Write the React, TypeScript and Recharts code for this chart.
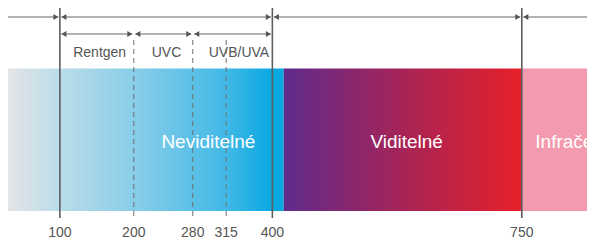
import { ComposedChart, Line, ReferenceArea, ReferenceDot, ReferenceLine, XAxis, YAxis } from "recharts";

// wavelength labels (nm) and where each sits on the schematic axis
const wavelengths = [100, 200, 280, 315, 400, 750];
const axisPos = [100, 204, 287, 334, 399, 750];
const solidAt = [100, 399, 750];
const dashedAt = [204, 287, 334];

// coloured bands: [from, to]
const invisibleBand = [27, 415];
const visibleBand = [415, 750];
const infraredBand = [750, 853];

// top row arrows and sub-range arrows: [from, to, head at start, head at end]
const topArrows: [number, number, boolean, boolean][] = [
  [27, 100, false, true],
  [100, 399, true, true],
  [399, 750, true, true],
  [750, 853, true, false],
];
const subArrows: [number, number, boolean, boolean][] = [
  [100, 204, true, true],
  [204, 287, true, true],
  [287, 399, true, true],
];
const subLabels = ["Rentgen", "UVC", "UVB/UVA"];
const subLabelPos = [156, 250, 352];
const bandLabels = ["Neviditelné", "Viditelné", "Infračervené"];
const bandLabelPos = [309, 588, 769];

const data = axisPos.map((pos, i) => ({ pos, nm: wavelengths[i], base: 210 }));

const FONT = '"Liberation Sans", Arial, Helvetica, sans-serif';

function arrowShape(startHead: boolean, endHead: boolean) {
  return (props: any) => {
    const { x1, y1, x2 } = props;
    const gap = 1.5;
    const len = 5;
    const half = 3;
    const a = x1 + (startHead ? gap : 0);
    const b = x2 - (endHead ? gap : 0);
    return (
      <g>
        <line x1={a} y1={y1} x2={b} y2={y1} stroke="#666" strokeWidth={1} />
        {startHead && (
          <polygon points={`${a},${y1} ${a + len},${y1 - half} ${a + len},${y1 + half}`} fill="#555" />
        )}
        {endHead && (
          <polygon points={`${b},${y1} ${b - len},${y1 - half} ${b - len},${y1 + half}`} fill="#555" />
        )}
      </g>
    );
  };
}

export default function App() {
  const rowTop = 9;
  const rowSub = 26;
  return (
    <div style={{ fontFamily: FONT }}>
      <ComposedChart width={587} height={234} data={data} margin={{ top: 0, right: 0, bottom: 0, left: 0 }}>
        <defs>
          <linearGradient id="invisible" x1="0" y1="0" x2="1" y2="0">
            <stop offset="0" stopColor="#e4e5e7" />
            <stop offset="0.18" stopColor="#bcdde9" />
            <stop offset="0.5" stopColor="#80cbe8" />
            <stop offset="0.8" stopColor="#3fb8e6" />
            <stop offset="0.955" stopColor="#0aa8e1" />
            <stop offset="1" stopColor="#0aa8e1" />
          </linearGradient>
          <linearGradient id="visible" x1="0" y1="0" x2="1" y2="0">
            <stop offset="0" stopColor="#5f2b8c" />
            <stop offset="0.5" stopColor="#a72457" />
            <stop offset="1" stopColor="#e6202a" />
          </linearGradient>
        </defs>
        <XAxis
          dataKey="pos"
          type="number"
          domain={[27, 853]}
          ticks={axisPos}
          interval={0}
          tickFormatter={(v: number) => String(wavelengths[axisPos.indexOf(v)] ?? v)}
          axisLine={false}
          tickLine={false}
          tickMargin={3}
          height={24}
          tick={{ fontSize: 14, fill: "#555", fontFamily: FONT }}
        />
        <YAxis type="number" domain={[0, 210]} reversed hide />
        <ReferenceArea x1={invisibleBand[0]} x2={invisibleBand[1]} y1={60.5} y2={203} fill="url(#invisible)" fillOpacity={1} stroke="none" />
        <ReferenceArea x1={visibleBand[0]} x2={visibleBand[1]} y1={60.5} y2={203} fill="url(#visible)" fillOpacity={1} stroke="none" />
        <ReferenceArea x1={infraredBand[0]} x2={infraredBand[1]} y1={60.5} y2={203} fill="#f49aae" fillOpacity={1} stroke="none" />
        {dashedAt.map((x) => (
          <ReferenceLine
            key={`d${x}`}
            segment={[{ x, y: 32 }, { x, y: 210 }]}
            stroke="#6f6f6f"
            strokeWidth={1}
            strokeDasharray="5 4"
          />
        ))}
        {solidAt.map((x) => (
          <ReferenceLine key={`s${x}`} x={x} stroke="#5e5e5e" strokeWidth={1.6} />
        ))}
        {topArrows.map(([a, b, s, e]) => (
          <ReferenceLine key={`t${a}`} segment={[{ x: a, y: rowTop }, { x: b, y: rowTop }]} shape={arrowShape(s, e)} />
        ))}
        {subArrows.map(([a, b, s, e]) => (
          <ReferenceLine key={`u${a}`} segment={[{ x: a, y: rowSub }, { x: b, y: rowSub }]} shape={arrowShape(s, e)} />
        ))}
        {subLabels.map((t, i) => (
          <ReferenceDot
            key={t}
            x={subLabelPos[i]}
            y={44}
            r={0.01}
            fill="none"
            stroke="none"
            label={{ value: t, position: "center", fill: "#555", fontSize: 14, fontFamily: FONT }}
          />
        ))}
        {bandLabels.map((t, i) => (
          <ReferenceDot
            key={t}
            x={bandLabelPos[i]}
            y={133}
            r={0.01}
            fill="none"
            stroke="none"
            label={{
              value: t,
              position: i === 2 ? "right" : "center",
              offset: 0,
              fill: "#fff",
              fontSize: 19,
              fontFamily: FONT,
            }}
          />
        ))}
        <Line dataKey="base" stroke="none" dot={false} isAnimationActive={false} />
      </ComposedChart>
    </div>
  );
}
